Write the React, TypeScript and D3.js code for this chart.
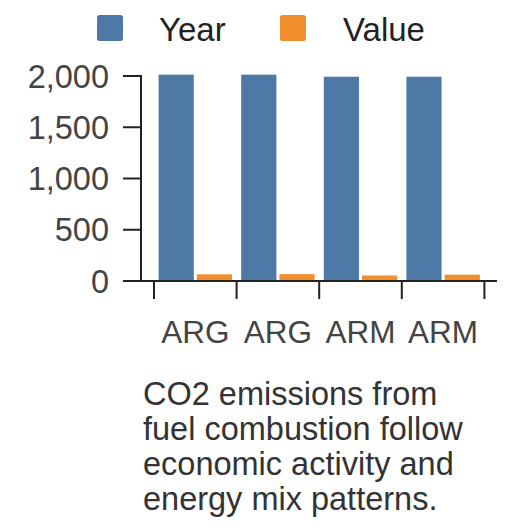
import React from 'react';
import * as d3 from 'd3';

const categories = ['ARG', 'ARG', 'ARM', 'ARM'];
const seriesNames = ['Year', 'Value'];
const yearValues = [2013, 2013, 1993, 1993];
const valueValues = [65, 67, 54, 62];
const yTicks = [0, 500, 1000, 1500, 2000];
const captionLines = [
  'CO2 emissions from',
  'fuel combustion follow',
  'economic activity and',
  'energy mix patterns.',
];

const colors = ['#4e79a7', '#f28e2b'];
const font = '"Liberation Sans", Arial, sans-serif';

export default function App() {
  const width = 528;
  const height = 528;
  const plot = { left: 141, right: 497, top: 76, bottom: 281 };

  const x0 = d3
    .scaleBand<number>()
    .domain(categories.map((_, i) => i))
    .range([154, 484.4])
    .padding(0);

  const x1 = d3
    .scaleBand<string>()
    .domain(seriesNames)
    .range([0, x0.bandwidth()])
    .paddingInner(0.08)
    .paddingOuter(0.12);

  const y = d3.scaleLinear().domain([0, 2000]).range([plot.bottom, plot.top]);

  const rows = categories.map((c, i) => ({ c, i, vals: [yearValues[i], valueValues[i]] }));
  const fmt = d3.format(',');
  const edges = [...x0.domain().map((d) => x0(d)!), x0.range()[1]];

  return (
    <svg
      width={width}
      height={height}
      style={{ position: 'absolute', left: 0, top: 0, background: '#fff' }}
      fontFamily={font}
    >
      {/* legend */}
      {seriesNames.map((s, i) => (
        <g key={s} transform={`translate(${i === 0 ? 97 : 280},15)`}>
          <rect width={26} height={26} rx={2.5} fill={colors[i]} />
          <text x={i === 0 ? 62 : 63} y={26} fontSize={33} fill="#222">
            {s}
          </text>
        </g>
      ))}

      {/* bars */}
      {rows.map((r) => (
        <g key={r.i} transform={`translate(${x0(r.i)},0)`}>
          {r.vals.map((v, k) => (
            <rect
              key={k}
              x={x1(seriesNames[k])}
              y={y(v)}
              width={x1.bandwidth()}
              height={y(0) - y(v)}
              fill={colors[k]}
            />
          ))}
        </g>
      ))}

      {/* y axis */}
      <line x1={plot.left} x2={plot.left} y1={y(2000) - 1} y2={y(0)} stroke="#222" strokeWidth={2} />
      {yTicks.map((t) => (
        <g key={t} transform={`translate(0,${y(t)})`}>
          <line x1={123} x2={plot.left} stroke="#222" strokeWidth={2} />
          <text x={109} dy="0.36em" textAnchor="end" fontSize={32.5} fill="#444">
            {fmt(t)}
          </text>
        </g>
      ))}

      {/* x axis */}
      <line x1={plot.left} x2={plot.right} y1={y(0)} y2={y(0)} stroke="#222" strokeWidth={2} />
      {edges.map((e, i) => (
        <line key={i} x1={e} x2={e} y1={y(0)} y2={299} stroke="#222" strokeWidth={2} />
      ))}
      {rows.map((r) => (
        <text
          key={r.i}
          x={x0(r.i)! + x0.bandwidth() / 2}
          y={343}
          textAnchor="middle"
          fontSize={31.5}
          fill="#444"
        >
          {r.c}
        </text>
      ))}

      {/* caption */}
      <text x={143} y={405} fontSize={32.5} fill="#333">
        {captionLines.map((l, i) => (
          <tspan key={i} x={143} dy={i === 0 ? 0 : 35}>
            {l}
          </tspan>
        ))}
      </text>
    </svg>
  );
}
